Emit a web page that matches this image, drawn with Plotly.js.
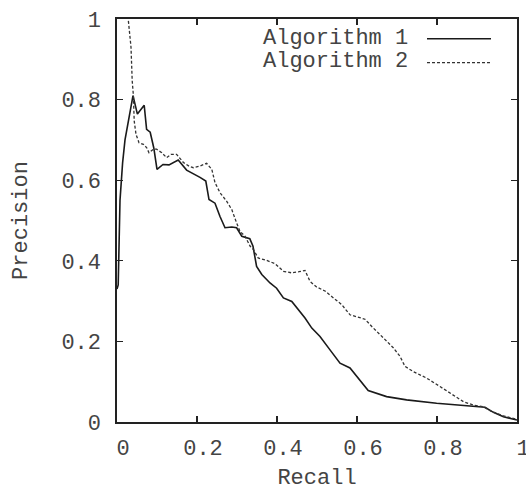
<!DOCTYPE html>
<html>
<head>
<meta charset="utf-8">
<script src="https://cdn.plot.ly/plotly-3.0.1.min.js"></script>
<style>html,body{margin:0;padding:0;background:#fff;}#chart{width:526px;height:491px;}</style>
</head>
<body>
<div id="chart"></div>
<script>
// Algorithm 1 (solid)
const recall1 = [0, 0.003, 0.0075, 0.014, 0.02, 0.028, 0.04, 0.051, 0.068, 0.074, 0.083, 0.092, 0.10, 0.115, 0.13, 0.153, 0.174, 0.2075, 0.222, 0.23, 0.245, 0.2575, 0.27, 0.287, 0.299, 0.312, 0.332, 0.34, 0.345, 0.349, 0.362, 0.3825, 0.399, 0.416, 0.437, 0.453, 0.47, 0.487, 0.5075, 0.5325, 0.5575, 0.5825, 0.603, 0.628, 0.674, 0.724, 0.799, 0.866, 0.92, 0.941, 0.966, 1.0];
const precision1 = [0.33, 0.34, 0.55, 0.643, 0.70, 0.747, 0.81, 0.764, 0.786, 0.726, 0.719, 0.68, 0.627, 0.639, 0.638, 0.65, 0.625, 0.607, 0.598, 0.552, 0.543, 0.51, 0.482, 0.484, 0.482, 0.461, 0.455, 0.436, 0.41, 0.386, 0.366, 0.345, 0.332, 0.308, 0.299, 0.279, 0.258, 0.233, 0.212, 0.179, 0.146, 0.134, 0.109, 0.078, 0.063, 0.055, 0.0465, 0.040, 0.0365, 0.024, 0.013, 0.005];

// Algorithm 2 (dashed)
const recall2 = [0.026, 0.035, 0.038, 0.041, 0.043, 0.0475, 0.055, 0.066, 0.074, 0.08, 0.091, 0.099, 0.112, 0.124, 0.135, 0.149, 0.166, 0.18, 0.191, 0.2075, 0.224, 0.237, 0.245, 0.2575, 0.274, 0.287, 0.299, 0.3075, 0.32, 0.333, 0.341, 0.353, 0.374, 0.395, 0.416, 0.437, 0.455, 0.47, 0.4825, 0.499, 0.52, 0.541, 0.562, 0.5825, 0.6075, 0.62, 0.637, 0.666, 0.69, 0.7075, 0.72, 0.741, 0.774, 0.8075, 0.841, 0.866, 0.891, 0.916, 0.937, 0.966, 1.0];
const precision2 = [1.02, 0.93, 0.847, 0.81, 0.747, 0.714, 0.693, 0.689, 0.681, 0.668, 0.677, 0.677, 0.668, 0.656, 0.664, 0.664, 0.644, 0.635, 0.631, 0.635, 0.642, 0.627, 0.594, 0.569, 0.548, 0.527, 0.494, 0.473, 0.461, 0.436, 0.428, 0.407, 0.401, 0.393, 0.374, 0.37, 0.373, 0.376, 0.349, 0.335, 0.325, 0.308, 0.291, 0.266, 0.258, 0.255, 0.237, 0.208, 0.185, 0.163, 0.138, 0.125, 0.109, 0.088, 0.067, 0.0505, 0.042, 0.038, 0.026, 0.015, 0.007];

const seriesNames = ["Algorithm 1", "Algorithm 2"];
const tickVals = [0, 0.2, 0.4, 0.6, 0.8, 1];
const tickText = ["0", "0.2", "0.4", "0.6", "0.8", "1"];

const FONT = "Liberation Mono, Courier New, monospace";
const TXT = "#444";

const traces = [
  {x: recall1, y: precision1, type: "scatter", mode: "lines", name: seriesNames[0],
   line: {color: "#1a1a1a", width: 1.6}},
  {x: recall2, y: precision2, type: "scatter", mode: "lines", name: seriesNames[1],
   line: {color: "#333", width: 1.3, dash: "3px,2px"}}
];

const axisCommon = {
  range: [0, 1], tickvals: tickVals, ticktext: tickText,
  showline: true, linecolor: "#222", linewidth: 1.6, mirror: "ticks",
  ticks: "inside", ticklen: 6, tickwidth: 1.3, tickcolor: "#222",
  showgrid: false, zeroline: false, ticklabeloverflow: "allow",
  tickfont: {family: FONT, size: 22, color: TXT}
};

const layout = {
  width: 526, height: 491,
  margin: {l: 117, r: 9, t: 19, b: 69},
  paper_bgcolor: "#fff", plot_bgcolor: "#fff",
  showlegend: false,
  xaxis: Object.assign({}, axisCommon, {
    title: {text: "Recall", font: {family: FONT, size: 22, color: TXT}, standoff: 19},
    ticklabelshift: 6, ticklabelstandoff: 5
  }),
  yaxis: Object.assign({}, axisCommon, {
    title: {text: "Precision", font: {family: FONT, size: 22, color: TXT}, standoff: 27},
    ticklabelstandoff: 10
  }),
  annotations: [
    {text: seriesNames[0], xref: "paper", yref: "paper", x: 0.7325, y: 0.9516,
     xanchor: "right", yanchor: "middle", showarrow: false,
     font: {family: FONT, size: 22, color: TXT}},
    {text: seriesNames[1], xref: "paper", yref: "paper", x: 0.7325, y: 0.8944,
     xanchor: "right", yanchor: "middle", showarrow: false,
     font: {family: FONT, size: 22, color: TXT}}
  ],
  shapes: [
    {type: "line", xref: "paper", yref: "paper", x0: 0.775, x1: 0.935, y0: 0.951, y1: 0.951,
     line: {color: "#1a1a1a", width: 1.6}},
    {type: "line", xref: "paper", yref: "paper", x0: 0.775, x1: 0.935, y0: 0.8916, y1: 0.8916,
     line: {color: "#333", width: 1.3, dash: "3px,2px"}}
  ]
};

Plotly.newPlot("chart", traces, layout, {displayModeBar: false, staticPlot: true});
</script>
</body>
</html>
